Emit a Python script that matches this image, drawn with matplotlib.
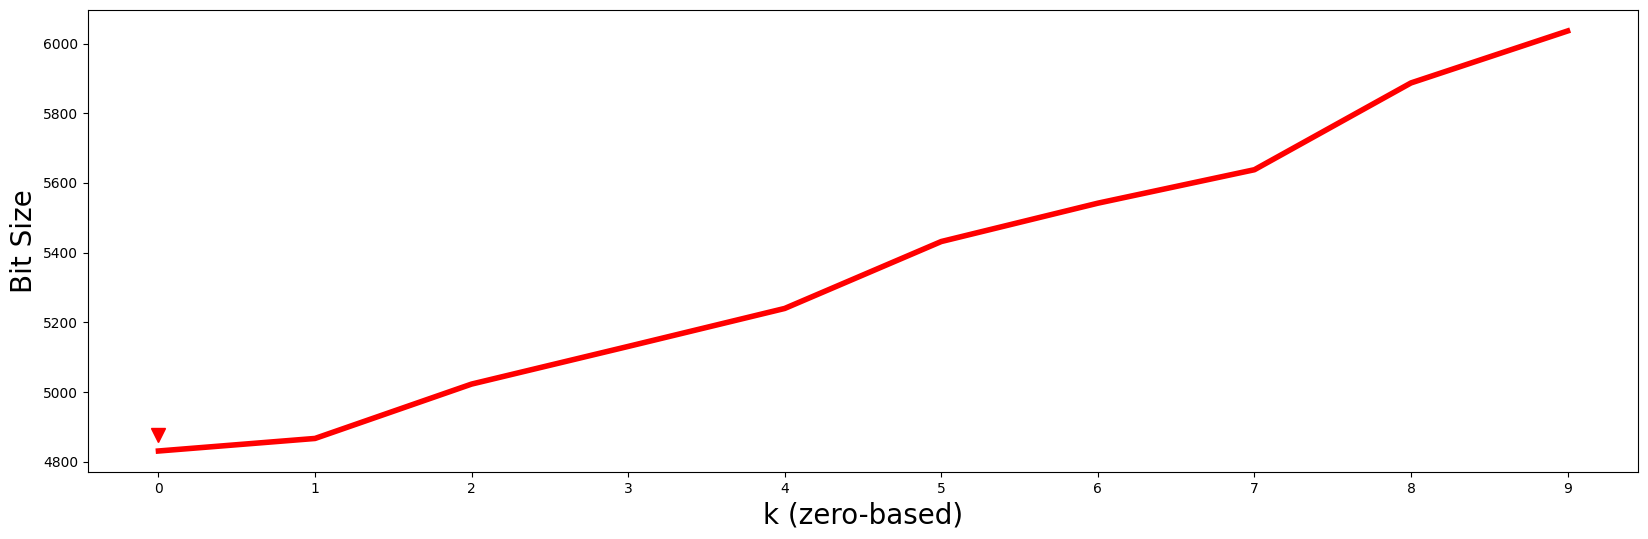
import matplotlib
matplotlib.use("Agg")
import matplotlib.pyplot as plt

k_values = [0, 1, 2, 3, 4, 5, 6, 7, 8, 9]
bit_sizes = [4831, 4867, 5023, 5131, 5240, 5432, 5542, 5638, 5887, 6036]
marker_k = [0]
marker_bits = [4877]

fig = plt.figure(figsize=(16.48, 5.39), dpi=100)
ax = fig.add_axes([88 / 1648, 1 - 472 / 539, (1638 - 88) / 1648, (472 - 10) / 539])
ax.plot(k_values, bit_sizes, color="red", linewidth=4)
ax.plot(marker_k, marker_bits, linestyle="none", marker="v", color="red", markersize=10)
ax.set_xticks(k_values)
ax.set_xlabel("k (zero-based)", fontsize=20)
ax.set_ylabel("Bit Size", fontsize=20)
fig.savefig("out.png", dpi=100)
